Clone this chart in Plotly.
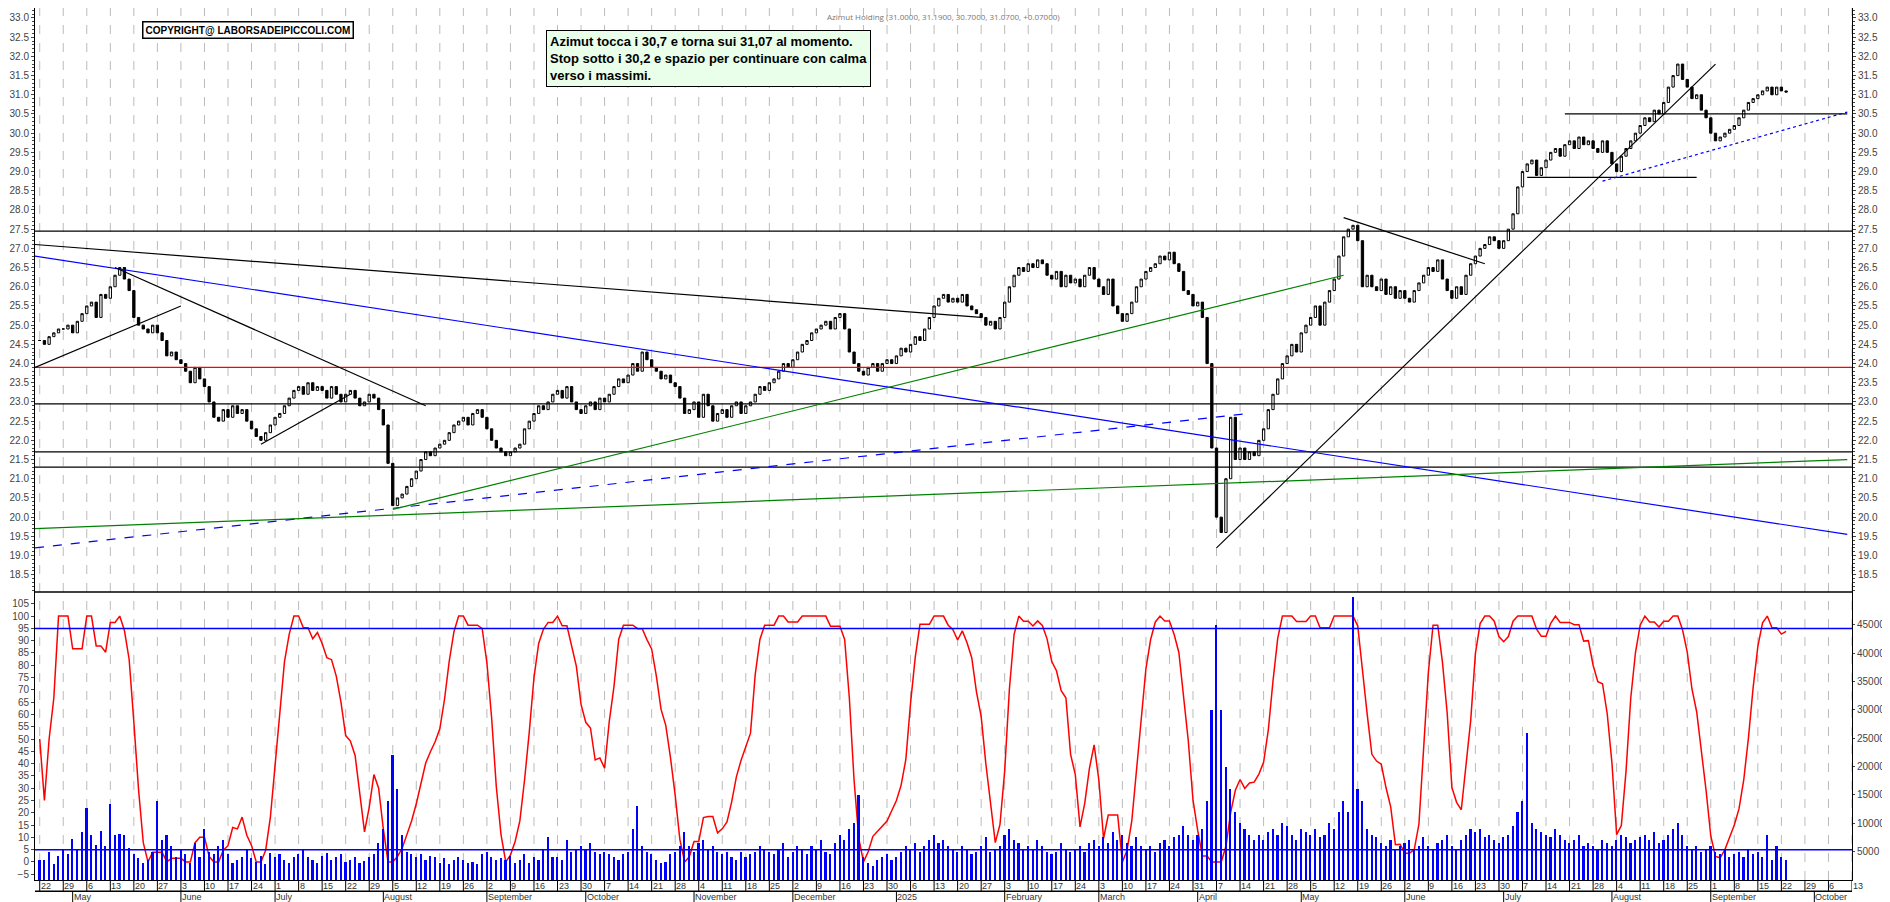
import pandas as pd
import numpy as np
import plotly.graph_objects as go

# daily closes, 22 Apr 2024 -> 24 Sep 2025 (weekdays)
close = [
    24.6, 24.5, 24.7, 24.8, 24.9,  24.9, 25.0, 24.8, 25.1, 25.3,
    25.5, 25.6, 25.2, 25.8, 25.7,  26.0, 26.3, 26.5, 26.2, 25.9,
    25.2, 25.0, 24.9, 24.8, 25.0,  24.8, 24.6, 24.2, 24.3, 24.1,
    24.0, 23.8, 23.5, 23.9, 23.6,  23.4, 23.0, 22.6, 22.5, 22.8,
    22.6, 22.9, 22.7, 22.8, 22.5,  22.3, 22.1, 22.0, 22.2, 22.4,
    22.6, 22.7, 22.9, 23.1, 23.3,  23.4, 23.2, 23.5, 23.3, 23.4,
    23.3, 23.1, 23.4, 23.2, 23.0,  23.2, 23.3, 23.1, 22.9, 23.0,
    23.2, 23.1, 22.8, 22.4, 21.4,  20.3, 20.5, 20.6, 20.8, 21.0,
    21.2, 21.5, 21.7, 21.6, 21.8,  21.9, 22.0, 22.2, 22.4, 22.5,
    22.6, 22.4, 22.7, 22.8, 22.6,  22.3, 22.0, 21.8, 21.7, 21.6,
    21.7, 21.8, 21.9, 22.3, 22.5,  22.7, 22.9, 22.8, 23.0, 23.2,
    23.3, 23.1, 23.4, 23.0, 22.8,  22.7, 22.9, 23.0, 22.8, 23.1,
    23.0, 23.2, 23.4, 23.6, 23.5,  23.7, 24.0, 23.8, 24.3, 24.1,
    23.9, 23.8, 23.6, 23.7, 23.5,  23.4, 23.1, 22.7, 22.8, 23.0,
    22.6, 23.2, 22.9, 22.5, 22.7,  22.8, 22.6, 22.9, 23.0, 22.7,
    22.9, 23.0, 23.2, 23.4, 23.3,  23.5, 23.6, 23.8, 24.0, 23.9,
    24.1, 24.3, 24.5, 24.6, 24.8,  24.9, 25.0, 25.1, 24.9, 25.2,
    25.3, 24.9, 24.3, 24.0, 23.8,  23.7, 23.9, 24.0, 23.8, 24.0,
    24.1, 24.0, 24.2, 24.4, 24.3,  24.5, 24.7, 24.6, 24.9, 25.2,
    25.5, 25.7, 25.8, 25.6, 25.7,  25.6, 25.8, 25.5, 25.4, 25.3,
    25.2, 25.0, 25.1, 24.9, 25.2,  25.6, 26.0, 26.3, 26.5, 26.4,
    26.6, 26.5, 26.7, 26.6, 26.3,  26.2, 26.4, 26.0, 26.3, 26.1,
    26.2, 26.0, 26.3, 26.5, 26.2,  26.0, 25.8, 26.2, 25.5, 25.3,
    25.1, 25.3, 25.6, 26.0, 26.2,  26.4, 26.5, 26.6, 26.8, 26.7,
    26.9, 26.6, 26.4, 25.9, 25.8,  25.5, 25.6, 25.2, 24.0, 21.8,
    20.0, 19.6, 21.0, 22.6, 21.5,  21.8, 21.5, 21.7, 21.6, 22.0,
    22.3, 22.8, 23.2, 23.6, 24.0,  24.2, 24.5, 24.3, 24.8, 25.0,
    25.2, 25.5, 25.0, 25.6, 25.9,  26.2, 26.8, 27.3, 27.5, 27.6,
    27.2, 26.0, 26.3, 26.0, 25.9,  26.2, 25.8, 26.0, 25.7, 25.9,
    25.7, 25.6, 25.9, 26.1, 26.3,  26.5, 26.4, 26.7, 26.2, 25.9,
    25.7, 26.0, 25.8, 26.3, 26.6,  26.8, 27.0, 27.1, 27.3, 27.2,
    27.0, 27.2, 27.5, 27.9, 28.6,  29.0, 29.2, 29.3, 28.9, 29.1,
    29.3, 29.5, 29.6, 29.4, 29.7,  29.8, 29.6, 29.9, 29.7, 29.8,
    29.6, 29.5, 29.8, 29.5, 29.2,  29.0, 29.4, 29.6, 29.8, 30.0,
    30.2, 30.4, 30.3, 30.6, 30.5,  30.8, 31.2, 31.5, 31.8, 31.4,
    31.2, 30.9, 31.0, 30.6, 30.4,  30.0, 29.8, 29.9, 30.0, 30.1,
    30.2, 30.4, 30.6, 30.8, 30.9,  31.0, 31.1, 31.2, 31.0, 31.2,
    31.1, 31.07,
]

# volume, thousands of shares
volume_k = [
    3.6, 3.6, 4.9, 2.8, 4.3,  5.3, 4.5, 7.3, 5.3, 8.4,
    12.7, 8.0, 6.2, 8.6, 6.0,  13.4, 8.0, 8.2, 8.0, 5.6,
    4.5, 3.8, 3.0, 3.5, 5.0,  14.0, 7.0, 8.0, 6.0, 4.0,
    5.5, 4.5, 3.0, 6.5, 4.0,  9.0, 5.0, 4.5, 6.0, 7.0,
    4.5, 3.0, 3.5, 4.0, 5.5,  3.8, 3.2, 4.2, 2.8, 4.8,
    4.0, 4.5, 3.5, 3.0, 4.0,  4.5, 5.5, 4.0, 3.5, 3.0,
    4.2, 4.8, 3.6, 4.0, 4.5,  3.2, 3.5, 4.0, 3.0, 3.4,
    4.0, 4.5, 6.5, 9.0, 14.0,  22.0, 16.0, 8.0, 5.0, 4.5,
    4.0, 4.5, 3.5, 4.2, 4.0,  3.0, 3.8, 2.8, 3.5, 4.0,
    3.5, 3.0, 3.2, 2.8, 4.5,  5.0, 4.0, 3.5, 3.8, 3.5,
    4.2, 3.0, 3.5, 4.5, 3.0,  4.0, 3.5, 5.5, 7.5, 4.0,
    4.0, 3.5, 7.0, 5.0, 5.5,  6.0, 5.5, 6.5, 5.0, 4.5,
    5.0, 4.5, 4.0, 3.5, 4.5,  5.0, 9.0, 13.0, 6.0, 5.0,
    4.5, 3.5, 3.0, 3.2, 4.5,  5.0, 6.0, 8.5, 6.0, 5.0,
    6.5, 7.0, 5.5, 6.0, 5.0,  4.5, 5.0, 4.0, 3.5, 5.0,
    4.0, 4.5, 5.0, 6.0, 5.5,  5.0, 4.5, 5.5, 6.5, 4.0,
    5.0, 6.0, 5.5, 4.5, 6.0,  5.5, 7.0, 5.0, 4.5, 6.5,
    8.0, 7.0, 9.0, 10.0, 15.0,  4.0, 3.0, 2.5, 3.5, 4.0,
    4.5, 3.5, 4.0, 5.0, 6.0,  5.5, 6.5, 5.0, 6.0, 7.0,
    8.0, 6.5, 7.0, 6.0, 5.5,  5.0, 6.0, 5.5, 4.5, 5.0,
    6.0, 7.5, 5.0, 5.5, 6.0,  8.0, 9.0, 7.0, 6.5, 5.5,
    6.0, 5.5, 7.0, 6.0, 5.0,  4.5, 5.0, 6.5, 5.5, 5.0,
    5.5, 6.0, 5.0, 6.5, 7.0,  6.0, 7.5, 6.5, 8.5, 7.0,
    8.0, 6.5, 6.0, 7.5, 6.0,  5.5, 6.0, 5.0, 6.5, 7.0,
    6.0, 7.5, 8.0, 9.5, 8.0,  7.0, 8.0, 9.0, 14.0, 30.0,
    45.0, 30.0, 20.0, 16.0, 12.0,  10.0, 9.0, 8.0, 7.0, 8.0,
    7.0, 8.5, 9.0, 8.0, 10.0,  9.5, 8.0, 7.0, 9.0, 8.5,
    8.0, 9.0, 7.5, 8.0, 10.0,  9.0, 12.0, 14.0, 12.0, 50.0,
    16.0, 14.0, 9.0, 8.0, 7.5,  6.5, 6.0, 7.0, 5.5, 6.0,
    6.5, 7.0, 5.5, 6.0, 7.5,  6.0, 5.5, 6.5, 7.0, 8.0,
    6.0, 5.5, 7.0, 8.0, 9.0,  8.5, 9.0, 7.5, 8.0, 7.0,
    6.5, 7.5, 8.0, 9.5, 12.0,  14.0, 26.0, 10.0, 9.0, 8.5,
    8.0, 7.5, 9.0, 8.0, 7.0,  6.5, 7.0, 8.0, 6.0, 6.5,
    6.0, 5.5, 7.0, 6.5, 6.0,  7.0, 8.0, 7.5, 6.5, 7.0,
    7.5, 8.0, 7.0, 8.5, 6.5,  7.0, 8.0, 9.0, 10.0, 8.0,
    6.0, 5.5, 6.0, 5.0, 5.5,  6.0, 5.0, 4.5, 5.5, 4.0,
    4.5, 5.0, 4.0, 5.5, 4.5,  5.0, 4.0, 8.0, 3.5, 6.0,
    4.0, 3.5,
]

# drawn studies: (start date, start price, end date, end price, colour, dash)
study_lines = [
    ("2024-04-22", 27.10, "2025-01-27", 25.20, "black", "solid"),
    ("2024-04-22", 26.80, "2025-10-10", 19.55, "blue", "solid"),
    ("2024-04-22", 19.20, "2025-04-16", 22.70, "blue", "dash"),
    ("2024-04-22", 19.70, "2025-10-10", 21.50, "green", "solid"),
    ("2024-08-05", 20.20, "2025-05-14", 26.30, "green", "solid"),
    ("2024-04-22", 23.90, "2024-06-03", 25.50, "black", "solid"),
    ("2024-05-14", 26.50, "2024-08-14", 22.90, "black", "solid"),
    ("2024-06-26", 21.90, "2024-07-23", 23.20, "black", "solid"),
    ("2025-05-14", 27.80, "2025-06-25", 26.60, "black", "solid"),
    ("2025-04-07", 19.20, "2025-09-02", 31.80, "black", "solid"),
    ("2025-07-08", 28.85, "2025-08-27", 28.85, "black", "solid"),
    ("2025-07-18", 30.50, "2025-10-10", 30.50, "black", "solid"),
    ("2025-07-30", 28.75, "2025-10-10", 30.55, "blue", "dot"),
]
levels = [27.45, 23.90, 22.95, 21.70, 21.30]
level_colors = ["black", "red", "black", "black", "black"]

all_dates = pd.bdate_range("2024-04-22", periods=len(close) + 14)
idx = np.arange(len(close))
c = np.array(close)
o = np.concatenate([[c[0]], c[:-1]])
hi = np.maximum(o, c)
lo = np.minimum(o, c)

# stochastic %K(14) smoothed 3 on closes
s = pd.Series(c)
lo14 = s.rolling(14, min_periods=1).min()
hi14 = s.rolling(14, min_periods=1).max()
stoch = ((s - lo14) / (hi14 - lo14).replace(0, np.nan) * 100).fillna(50).rolling(3, min_periods=1).mean()


def pos(d):
    return all_dates.get_indexer([pd.Timestamp(d)], method="nearest")[0]


# page has an 8px body margin, so the figure is drawn a bit smaller
fig_w, fig_h = 1882, 894
mar_b = 22
plot_h = fig_h - mar_b
split = 1 - 584 / plot_h  # price pane / lower pane boundary

fig = go.Figure()
fig.add_trace(go.Candlestick(
    x=idx, open=o, high=hi, low=lo, close=c,
    increasing=dict(line=dict(color="black", width=1), fillcolor="white"),
    decreasing=dict(line=dict(color="black", width=1), fillcolor="black"),
    whiskerwidth=0, yaxis="y", xaxis="x", showlegend=False))
fig.add_trace(go.Scatter(x=idx, y=c, mode="lines", opacity=0, yaxis="y2", xaxis="x",
                         showlegend=False, hoverinfo="skip"))
fig.add_trace(go.Bar(x=idx, y=np.array(volume_k) * 1000, width=0.35,
                     marker=dict(color="blue", line=dict(width=0)),
                     yaxis="y4", xaxis="x", showlegend=False))
fig.add_trace(go.Scatter(x=idx, y=stoch, mode="lines", line=dict(color="red", width=1.5),
                         yaxis="y3", xaxis="x", showlegend=False))

xmax = len(all_dates) - 1
shapes = []
for lv, col in zip(levels, level_colors):
    shapes.append(dict(type="line", xref="x", yref="y", x0=-1, x1=xmax, y0=lv, y1=lv,
                       line=dict(color=col, width=1.2)))
for d0, p0, d1, p1, col, dash in study_lines:
    shapes.append(dict(type="line", xref="x", yref="y", x0=pos(d0) - 1 if d0 == "2024-04-22" else pos(d0),
                       x1=pos(d1), y0=p0, y1=p1, line=dict(color=col, width=1.2, dash=dash)))
for lv in [95, 5]:
    shapes.append(dict(type="line", xref="paper", yref="y3", x0=0, x1=1, y0=lv, y1=lv,
                       line=dict(color="blue", width=1.5)))

annotations = []
datefont = dict(size=9, color="#333", family="Liberation Sans, Arial")

# weekly ticks on Mondays, month labels below
mondays = [i for i, d in enumerate(all_dates) if d.weekday() == 0]
for m in mondays:
    shapes.append(dict(type="line", xref="x", yref="paper", x0=m, x1=m, y0=0, y1=1,
                       line=dict(color="#bbbbbb", width=1, dash="dash"), layer="below"))
    shapes.append(dict(type="line", xref="x", yref="paper", x0=m, x1=m, y0=0, y1=-0.013,
                       line=dict(color="black", width=1)))
    annotations.append(dict(x=m, y=0, xref="x", yref="paper", text=str(all_dates[m].day), yshift=1,
                            showarrow=False, xanchor="left", yanchor="top", xshift=-1, font=datefont))
shapes.append(dict(type="line", xref="paper", yref="paper", x0=0, x1=1, y0=split, y1=split,
                   line=dict(color="black", width=1.5)))
shapes.append(dict(type="line", xref="paper", yref="paper", x0=0, x1=1, y0=-0.013, y1=-0.013,
                   line=dict(color="black", width=1.5)))

prev_month = None
for i, d in enumerate(all_dates):
    if d.month != prev_month:
        if prev_month is not None:
            label = str(d.year) if d.month == 1 else d.strftime("%B")
            annotations.append(dict(x=i, y=0, xref="x", yref="paper", text=label, yshift=-10,
                                    showarrow=False, xanchor="left", yanchor="top", xshift=-1, font=datefont))
            shapes.append(dict(type="line", xref="x", yref="paper", x0=i, x1=i, y0=-0.013, y1=-0.03,
                               line=dict(color="black", width=1)))
        prev_month = d.month

annotations.append(dict(x=0.5, y=1.0, xref="paper", yref="paper", yanchor="top", yshift=-1,
                        text="Azimut Holding (31.0000, 31.1900, 30.7000, 31.0700, +0.07000)",
                        showarrow=False, font=dict(size=8, color="#777")))
annotations.append(dict(x=0.059, y=0.985, xref="paper", yref="paper", xanchor="left", yanchor="top",
                        text="<b>COPYRIGHT@ LABORSADEIPICCOLI.COM</b>", showarrow=False,
                        font=dict(size=10, color="black", family="Liberation Sans Narrow, Arial"),
                        bordercolor="black", borderwidth=1.5, borderpad=2, bgcolor="white"))
annotations.append(dict(x=0.281, y=0.975, xref="paper", yref="paper", xanchor="left", yanchor="top", align="left",
                        text="<b>Azimut tocca i 30,7 e torna sui 31,07 al momento.<br>"
                             "Stop sotto i 30,2 e spazio per continuare con calma<br>verso i massimi.</b>",
                        showarrow=False, font=dict(size=13, color="black", family="Liberation Sans Narrow, Arial"),
                        bordercolor="black", borderwidth=1, borderpad=3, bgcolor="#eaffea"))

tickfont = dict(size=10, color="#444", family="Liberation Sans, Arial")
rfont = dict(size=10, color="#444", family="Liberation Sans Narrow, Arial")
price_axis = dict(domain=[split, 1], range=[18.05, 33.26], tickmode="linear", tick0=18.5, dtick=0.5,
                  tickformat=".1f", showgrid=False, zeroline=False, tickfont=tickfont, ticks="outside",
                  ticklen=3, showline=True, linecolor="black")
fig.update_layout(
    width=fig_w, height=fig_h, margin=dict(l=27, r=38, t=0, b=mar_b),
    paper_bgcolor="white", plot_bgcolor="white", showlegend=False,
    shapes=shapes, annotations=annotations, bargap=0,
    xaxis=dict(range=[-1, xmax], showticklabels=False, showgrid=False, anchor="y3",
               rangeslider=dict(visible=False), showline=True, linecolor="black", zeroline=False),
    yaxis=dict(price_axis, minor=dict(dtick=0.1, ticks="outside", ticklen=2)),
    yaxis2=dict(price_axis, overlaying="y", side="right", tickfont=rfont,
                minor=dict(dtick=0.1, ticks="outside", ticklen=2)),
    yaxis3=dict(domain=[0, split], range=[-7.35, 109.8], tickmode="linear", tick0=0, dtick=5,
                showgrid=False, zeroline=False, tickfont=tickfont, ticks="outside", ticklen=3,
                showline=True, linecolor="black"),
    yaxis4=dict(domain=[0, split], range=[0, 50800], tickmode="array",
                tickvals=[5000 * k for k in range(1, 10)], tickformat="d", overlaying="y3", side="right",
                showgrid=False, zeroline=False, tickfont=rfont, ticks="outside", ticklen=2,
                showline=True, linecolor="black"),
)

fig.write_html("out.html")
